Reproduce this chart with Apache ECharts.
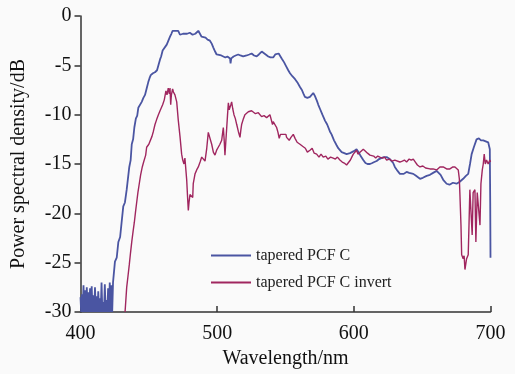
<!DOCTYPE html>
<html>
<head>
<meta charset="utf-8">
<script src="https://cdn.jsdelivr.net/npm/echarts@6/dist/echarts.min.js"></script>
<style>
html,body{margin:0;padding:0;background:#fafafa;overflow:hidden;}
#chart{width:515px;height:374px;}
</style>
</head>
<body>
<div id="chart"></div>
<script>
const seriesNames = ['tapered PCF C', 'tapered PCF C invert'];
const xTicks = [400, 500, 600, 700];
const yTicks = [0, -5, -10, -15, -20, -25, -30];

// tapered PCF C : [wavelength nm, power dB]
const taperedC = [
[400,-28.5],[400.5,-30],[401,-28.2],[401.6,-30],[402.2,-27.3],[402.8,-30],[403.4,-27.8],[404,-30],[404.6,-27.5],[405.2,-30],
[405.8,-28.0],[406.4,-30],[407,-27.6],[407.6,-30],[408.2,-27.4],[408.8,-30],[409.4,-28.3],[410,-30],[410.6,-27.5],[411.2,-30],
[411.8,-28.4],[412.4,-30],[413,-27.9],[413.6,-30],[414.2,-28.6],[414.8,-30],[415.4,-27.0],[416,-30],[416.6,-29.0],[417.2,-30],
[417.8,-27.2],[418.4,-30],[419,-28.8],[419.6,-30],[420.2,-27.6],[420.8,-30],[421.4,-27.0],[422,-30],[422.6,-27.3],[423.2,-30],
[423.8,-27.0],[424.2,-27.2],[425.2,-24.9],[426.5,-24.5],[427.7,-22.9],[429,-22.4],[430.1,-20.9],[431.3,-19.3],[432.5,-18.9],[433.8,-17.6],
[435.7,-15.3],[436.7,-14.6],[437.5,-13.0],[438.5,-12.5],[439.4,-11.3],[440.5,-10.4],[441.5,-10.1],[442.3,-9.3],[443.5,-9.2],[444.8,-8.7],
[446,-8.3],[447.2,-8.0],[448.5,-7.3],[449.6,-6.7],[450.5,-6.3],[451.4,-6.0],[453,-5.8],[454.5,-5.7],[456,-5.5],[456.9,-5.4],
[458.2,-4.4],[459,-4.1],[460.1,-3.5],[461.5,-3.3],[463.1,-2.9],[464.3,-2.5],[465.5,-2.1],[466.5,-1.8],[467.4,-1.5],[468.5,-1.3],
[469.5,-1.5],[470.4,-1.6],[471.5,-1.5],[472.8,-1.9],[474,-1.7],[475,-1.8],[476.4,-1.6],[478,-1.8],[480,-1.7],[482,-1.9],
[484,-1.8],[485.3,-1.9],[486.2,-1.5],[487.5,-1.6],[488.6,-2.1],[490,-2.1],[491.5,-2.2],[493,-2.4],[494.7,-2.5],[496,-2.8],
[497.2,-3.2],[498.5,-3.6],[499.6,-3.9],[501,-4.1],[503,-4.0],[504.5,-4.1],[506,-4.2],[507.5,-4.1],[509.4,-4.3],[509.8,-4.8],
[510.3,-4.3],[512,-4.1],[513.5,-4.0],[515.4,-3.9],[517,-4.0],[519,-4.1],[521.6,-4.0],[523.5,-3.9],[525.2,-3.8],[527,-4.0],
[528.9,-4.1],[530.5,-3.9],[532.6,-3.6],[534,-3.7],[535.5,-3.9],[537.4,-4.1],[539,-4.2],[541,-4.2],[542.5,-3.9],[543.5,-3.7],
[545,-3.8],[546,-3.9],[547.2,-4.3],[549,-4.7],[550.5,-5.1],[552,-5.5],[553.3,-5.8],[555,-6.1],[557,-6.4],[559,-6.8],
[560.6,-7.2],[562,-7.5],[563.2,-7.9],[564.2,-8.2],[566,-8.3],[567.9,-8.2],[569,-8.0],[570.3,-7.8],[571.5,-8.1],[573,-8.6],
[574,-9.0],[575.2,-9.4],[577,-10.0],[578.9,-10.6],[580.5,-11.0],[582.5,-11.7],[583.7,-12.0],[585.5,-12.6],[587.4,-13.1],[588.6,-13.4],
[590,-13.6],[591.1,-13.8],[593,-13.9],[594.7,-14.0],[596,-13.9],[597.2,-13.9],[598.5,-13.8],[600,-13.7],[602,-13.5],[603.5,-13.8],
[605,-14.2],[606.9,-14.6],[608.5,-14.9],[610,-15.0],[611.8,-15.0],[613.5,-14.9],[615,-14.8],[616.7,-14.7],[618.5,-14.5],[620,-14.4],
[622,-14.3],[624,-14.3],[626.3,-14.5],[628.8,-14.9],[630,-15.3],[632,-15.7],[633.7,-16.0],[635,-16.1],[636.5,-16.0],[638.6,-15.8],
[640.5,-15.9],[643.5,-16.0],[645.5,-16.2],[648.4,-16.5],[650.5,-16.4],[653.3,-16.2],[655.7,-16.1],[658,-15.9],[660.6,-15.7],[661.8,-15.6],
[663.5,-16.1],[665.4,-16.6],[667.9,-17.0],[670,-17.1],[672.5,-16.9],[675.2,-17.0],[677.5,-16.8],[680,-16.5],[682,-16.2],[683.7,-16.0],
[685,-15.0],[686.2,-14.0],[687.8,-13.3],[689.8,-12.5],[691.5,-12.4],[693,-12.6],[694.7,-12.6],[696.5,-12.7],[698.3,-12.8],[699.5,-13.5],
[699.8,-19.0],[700,-24.5]
];

// tapered PCF C invert : [wavelength nm, power dB]
const taperedCInvert = [
[432.6,-30],[433.8,-27.5],[434.8,-26.3],[435.7,-25.2],[436.6,-24.0],[437.5,-22.9],[438.5,-21.8],[439.4,-20.9],[440.3,-19.8],[441.1,-18.9],
[442,-17.9],[443,-17.0],[444,-16.1],[445.2,-15.3],[446.2,-14.8],[447.7,-14.1],[448.4,-13.3],[450,-13.0],[451.4,-12.8],[452.3,-12.2],
[453.3,-11.7],[454.5,-11.0],[455.7,-10.5],[457,-10.0],[458.2,-9.6],[459.2,-9.4],[460.1,-9.0],[461.3,-8.5],[462.5,-7.6],[463.3,-8.0],
[464.2,-7.3],[465,-7.9],[465.5,-7.3],[466,-9.0],[466.5,-8.0],[467.4,-7.4],[468,-7.7],[469.1,-8.0],[470.4,-8.7],[471.5,-10.5],
[472.8,-12.2],[474,-14.0],[474.8,-14.6],[475.7,-15.0],[476.4,-14.4],[477.2,-14.3],[477.7,-16.6],[478.4,-18.5],[478.9,-19.7],[479.4,-18.9],
[480.1,-18.1],[481.3,-18.3],[482.1,-18.4],[482.5,-17.0],[483.8,-16.0],[485,-15.6],[486.2,-15.3],[487.5,-14.8],[488.7,-14.3],[490,-14.5],
[491.1,-14.7],[492.3,-13.5],[493.5,-11.8],[494.7,-11.7],[496,-13.0],[497.2,-13.8],[498.4,-14.1],[499.6,-13.6],[500.8,-13.3],[502,-13.0],
[503.3,-12.6],[504.5,-11.3],[505.1,-12.5],[505.7,-14.1],[506.3,-12.8],[507,-11.3],[507.6,-10.0],[508.2,-8.8],[508.8,-9.5],[509.4,-9.7],
[510,-9.0],[510.6,-8.7],[511.4,-9.4],[512.3,-10.0],[513.3,-10.4],[514.3,-11.0],[515.5,-11.7],[516.7,-12.3],[517.3,-11.6],[517.9,-11.0],
[519,-10.5],[520.3,-10.0],[521.5,-9.8],[522.8,-9.7],[524,-9.7],[525.2,-9.6],[526.4,-9.7],[528,-9.9],[530.1,-9.8],[531.3,-10.0],
[532.5,-10.2],[534.3,-10.1],[536.2,-10.3],[537.4,-10.2],[538.6,-10.0],[539.9,-10.2],[540.5,-11.0],[541,-10.7],[542.2,-10.9],[543.5,-11.3],
[544.5,-11.8],[545.4,-12.4],[546.3,-12.0],[547.2,-11.8],[548.5,-12.0],[550.3,-12.0],[550.8,-12.3],[552.7,-12.6],[554,-12.3],[555.7,-12.0],
[557,-12.4],[558.5,-12.8],[560.6,-13.0],[562.5,-13.2],[564.5,-13.4],[566,-13.8],[567.9,-13.6],[569.5,-13.4],[571,-13.9],[572.8,-14.0],
[574.5,-14.3],[576,-14.0],[577.6,-14.3],[579.5,-14.2],[581,-14.5],[583,-14.3],[584.9,-14.4],[586.5,-14.5],[588,-14.3],[589.8,-14.6],
[591.5,-14.8],[593,-14.9],[594.7,-15.1],[596,-14.9],[597.5,-14.6],[598.5,-14.3],[599.6,-14.0],[600.5,-14.2],[602,-13.6],[603,-14.0],
[604.5,-13.8],[606.9,-13.5],[608.5,-13.7],[610,-13.9],[611.8,-14.1],[613,-14.0],[614.5,-14.2],[616,-14.4],[617.5,-14.2],[619,-14.3],
[621,-14.4],[622.5,-14.3],[624,-14.6],[626,-14.5],[628,-14.7],[630,-14.6],[631.3,-14.6],[633.7,-14.8],[635.5,-14.7],[637,-14.6],
[638.6,-14.8],[640.5,-14.5],[642,-14.6],[643.5,-14.5],[645,-14.8],[646.5,-15.1],[648.4,-15.3],[650.5,-15.2],[652.5,-15.4],[655.7,-15.5],
[658,-15.5],[660.6,-15.6],[663,-15.3],[665.4,-15.3],[667.9,-15.5],[670.3,-15.5],[672.5,-15.3],[674,-15.3],[675.2,-15.3],[676.4,-15.6],
[677.2,-16.5],[677.6,-18.0],[678.4,-21.2],[678.9,-24.2],[680,-24.6],[680.7,-24.3],[681.3,-25.7],[682.5,-24.6],[683.7,-24.2],[684.3,-21.0],
[684.9,-17.6],[685.8,-17.8],[686.6,-22.2],[687.3,-17.9],[688.6,-17.6],[689.3,-22.9],[690.3,-17.9],[691.5,-17.8],[692.3,-21.2],[693,-17.0],
[694,-15.6],[694.7,-15.0],[695.4,-14.0],[696.2,-15.0],[697.1,-14.6],[698.3,-15.0],[699.5,-14.6],[700,-14.8]
];

const font = '"Liberation Serif","Times New Roman",serif';
const chart = echarts.init(document.getElementById('chart'), null, {renderer:'canvas', width:515, height:374});
chart.setOption({
  backgroundColor: '#fafafa',
  animation: false,
  grid: {left: 80.5, right: 24.5, top: 16, bottom: 56, containLabel: false},
  legend: {
    orient: 'vertical', left: 206, top: 242, itemWidth: 40, itemHeight: 2, itemGap: 10,
    icon: 'rect',
    textStyle: {fontFamily: font, fontSize: 16, color: '#222', lineHeight: 17},
    data: seriesNames
  },
  xAxis: {
    type: 'value', min: xTicks[0], max: xTicks[xTicks.length-1], interval: 100,
    name: 'Wavelength/nm', nameLocation: 'middle', nameGap: 37,
    nameTextStyle: {fontFamily: font, fontSize: 20, color: '#111'},
    axisLine: {onZero: false, lineStyle: {color: '#333', width: 1.5}},
    axisTick: {inside: true, length: 6, lineStyle: {color: '#333', width: 1.5}},
    axisLabel: {fontFamily: font, fontSize: 20, color: '#111', margin: 12},
    splitLine: {show: false}
  },
  yAxis: {
    type: 'value', min: yTicks[yTicks.length-1], max: yTicks[0], interval: 5,
    name: 'Power spectral density/dB', nameLocation: 'middle', nameGap: 52, nameRotate: 90,
    nameTextStyle: {fontFamily: font, fontSize: 20, color: '#111'},
    axisLine: {show: true, onZero: false, lineStyle: {color: '#333', width: 1.5}},
    axisTick: {show: true, inside: false, length: 6, lineStyle: {color: '#333', width: 1.5}},
    axisLabel: {fontFamily: font, fontSize: 20, color: '#111', margin: 9},
    splitLine: {show: false}
  },
  series: [
    {name: seriesNames[0], type: 'line', data: taperedC, symbol: 'none', lineStyle: {color: '#4a55a2', width: 1.8}, itemStyle: {color: '#4a55a2'}, z: 2},
    {name: seriesNames[1], type: 'line', data: taperedCInvert, symbol: 'none', lineStyle: {color: '#a0265f', width: 1.4}, itemStyle: {color: '#a0265f'}, z: 3}
  ]
});
</script>
</body>
</html>
